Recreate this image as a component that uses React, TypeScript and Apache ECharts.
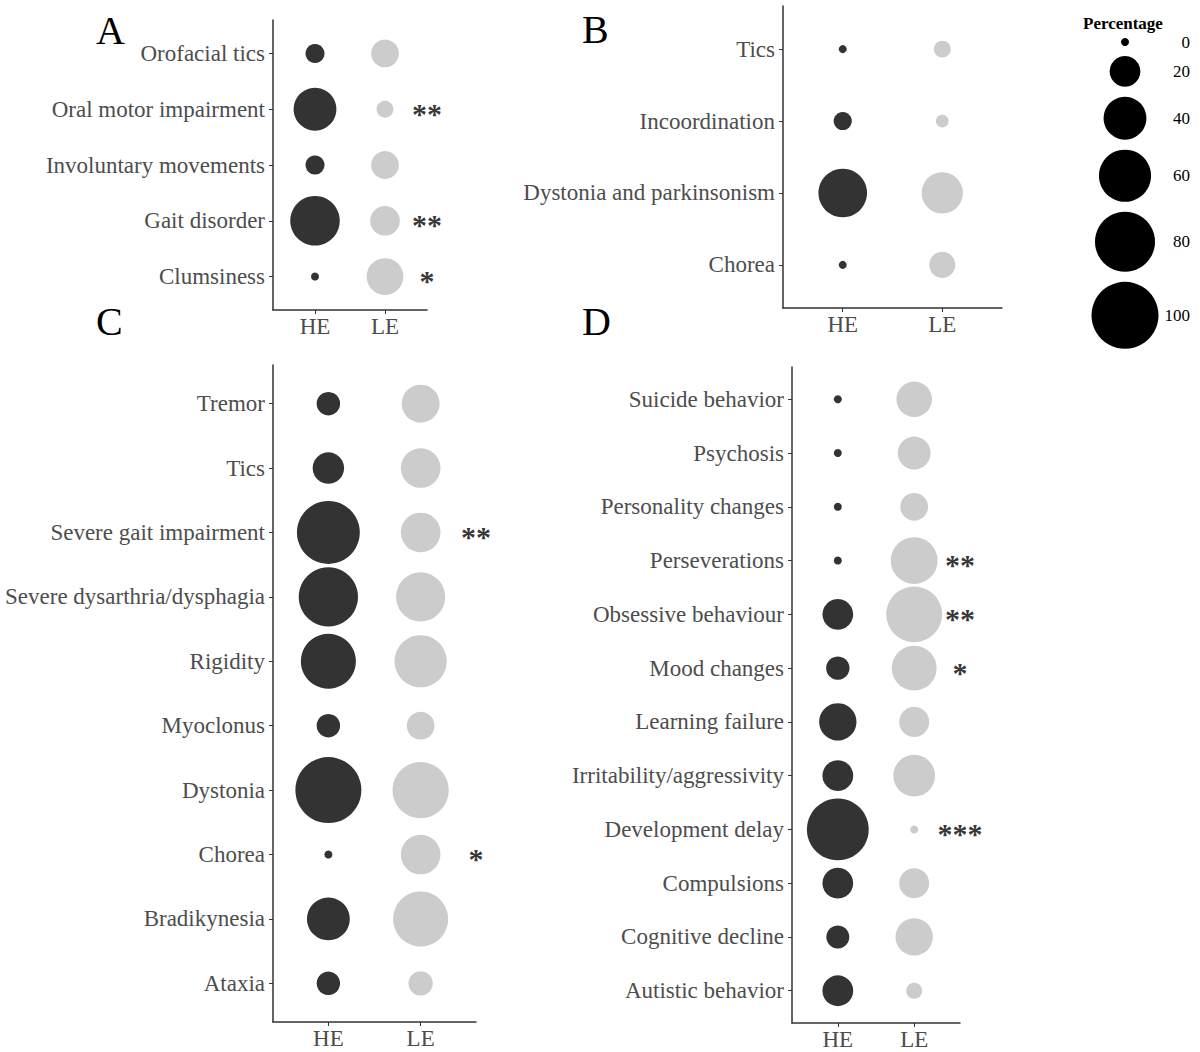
import React, { useEffect, useRef } from "react";
import * as echarts from "echarts";

// ---------- data ----------
const groups = ["HE", "LE"];

const catsA = ["Orofacial tics", "Oral motor impairment", "Involuntary movements", "Gait disorder", "Clumsiness"];
const heA = [6.7, 40, 6.7, 54, 0];
const leA = [16, 5, 16, 18.5, 29];
const starsA = ["", "**", "", "**", "*"];

const catsB = ["Tics", "Incoordination", "Dystonia and parkinsonism", "Chorea"];
const heB = [0, 6, 52, 0];
const leB = [5, 2.2, 37, 14];
const starsB = ["", "", "", ""];

const catsC = ["Tremor", "Tics", "Severe gait impairment", "Severe dysarthria/dysphagia", "Rigidity", "Myoclonus", "Dystonia", "Chorea", "Bradikynesia", "Ataxia"];
const heC = [11, 21, 88, 78, 67, 11, 97, 0, 40, 11];
const leC = [31, 34, 34, 53, 60, 16, 70, 34, 67, 12];
const starsC = ["", "", "**", "", "", "", "", "*", "", ""];

const catsD = ["Suicide behavior", "Psychosis", "Personality changes", "Perseverations", "Obsessive behaviour", "Mood changes", "Learning failure", "Irritability/aggressivity", "Development delay", "Compulsions", "Cognitive decline", "Autistic behavior"];
const heD = [0, 0, 0, 0, 20, 11, 30, 20, 85, 20, 10.5, 20];
const leD = [27, 23, 16, 48, 69, 44, 19, 38, 0, 19, 30, 4.3];
const starsD = ["", "", "", "**", "**", "*", "", "", "***", "", "", ""];

const legendValues = [0, 20, 40, 60, 80, 100];
const legendTitle = "Percentage";

// ---------- styling ----------
const HE_COLOR = "#333333";
const LE_COLOR = "#cccccc";
const AXIS_COLOR = "#333333";
const LABEL_COLOR = "#4d4d4d";
const FONT = "'Liberation Serif', 'Times New Roman', serif";
const LABEL_SIZE = 23;

const sizeOf = (v: number) => Math.sqrt(64 + 44.25 * v);

const panels = [
  { letter: "A", lx: 96, ly: 30, cats: catsA, he: heA, le: leA, stars: starsA, grid: { left: 273, top: 20, width: 154, height: 290 } },
  { letter: "B", lx: 582, ly: 29, cats: catsB, he: heB, le: leB, stars: starsB, grid: { left: 783, top: 6, width: 219, height: 302 } },
  { letter: "C", lx: 96, ly: 321, cats: catsC, he: heC, le: leC, stars: starsC, grid: { left: 273, top: 365, width: 203, height: 657 } },
  { letter: "D", lx: 582, ly: 321, cats: catsD, he: heD, le: leD, stars: starsD, grid: { left: 792, top: 367, width: 168, height: 656 } },
];

function buildOption() {
  const grid: any[] = [];
  const xAxis: any[] = [];
  const yAxis: any[] = [];
  const series: any[] = [];
  const graphic: any[] = [];

  panels.forEach((p, i) => {
    const n = p.cats.length;
    grid.push({ ...p.grid, containLabel: false, outerBoundsMode: "none" });
    xAxis.push({
      type: "value",
      gridIndex: i,
      min: 0.4,
      max: 2.6,
      axisLine: { show: true, onZero: false, lineStyle: { color: AXIS_COLOR, width: 1.5 } },
      axisTick: { show: true, length: 4, customValues: [1, 2], lineStyle: { color: AXIS_COLOR, width: 1 } },
      axisLabel: {
        customValues: [1, 2],
        formatter: (v: number) => groups[Math.round(v) - 1] ?? "",
        color: LABEL_COLOR,
        fontFamily: FONT,
        fontSize: LABEL_SIZE,
        margin: 5,
      },
      splitLine: { show: false },
    });
    const ys = p.cats.map((_, k) => n - k);
    yAxis.push({
      type: "value",
      gridIndex: i,
      min: 0.4,
      max: n + 0.6,
      axisLine: { show: true, onZero: false, lineStyle: { color: AXIS_COLOR, width: 1.5 } },
      axisTick: { show: true, length: 4, customValues: ys, lineStyle: { color: AXIS_COLOR, width: 1 } },
      axisLabel: {
        customValues: ys,
        formatter: (v: number) => p.cats[n - Math.round(v)] ?? "",
        color: LABEL_COLOR,
        fontFamily: FONT,
        fontSize: LABEL_SIZE,
        margin: 8,
      },
      splitLine: { show: false },
    });
    series.push({
      type: "scatter",
      xAxisIndex: i,
      yAxisIndex: i,
      data: p.he.map((v, k) => [1, n - k, v]),
      symbolSize: (d: number[]) => sizeOf(d[2]),
      itemStyle: { color: HE_COLOR, opacity: 1 },
      clip: false,
    });
    series.push({
      type: "scatter",
      xAxisIndex: i,
      yAxisIndex: i,
      data: p.le.map((v, k) => [2, n - k, v]),
      symbolSize: (d: number[]) => sizeOf(d[2]),
      itemStyle: { color: LE_COLOR, opacity: 1 },
      clip: false,
    });
    const starData = p.stars
      .map((s, k) => ({ name: s, value: [2.6, n - k] }))
      .filter((d) => d.name !== "");
    if (starData.length) {
      series.push({
        type: "scatter",
        xAxisIndex: i,
        yAxisIndex: i,
        data: starData,
        symbolSize: 1,
        itemStyle: { color: "rgba(0,0,0,0)" },
        clip: false,
        label: {
          show: true,
          position: "inside",
          formatter: "{b}",
          color: "#000",
          fontFamily: FONT,
          fontWeight: "bold",
          fontSize: 30,
          offset: [0, 4],
        },
      });
    }
    graphic.push({
      type: "text",
      x: p.lx,
      y: p.ly,
      style: { text: p.letter, fill: "#000", font: `40px ${FONT}`, verticalAlign: "middle" },
    });
  });

  // size legend
  const lx = 1125;
  let cy = 42;
  graphic.push({
    type: "text",
    x: 1083,
    y: 23,
    style: { text: legendTitle, fill: "#000", font: `bold 17px ${FONT}`, verticalAlign: "middle" },
  });
  legendValues.forEach((v, k) => {
    const d = sizeOf(v);
    if (k > 0) cy += sizeOf(legendValues[k - 1]) / 2 + 10 + d / 2;
    graphic.push({ type: "circle", shape: { cx: lx, cy, r: d / 2 }, style: { fill: "#000" } });
    graphic.push({
      type: "text",
      x: 1190,
      y: cy,
      style: { text: String(v), fill: "#000", font: `17px ${FONT}`, align: "right", verticalAlign: "middle" },
    });
  });

  return { animation: false, backgroundColor: "#ffffff", grid, xAxis, yAxis, series, graphic };
}

export default function App() {
  const ref = useRef<HTMLDivElement>(null);
  useEffect(() => {
    if (!ref.current) return;
    const chart = echarts.init(ref.current, undefined, { renderer: "svg" });
    chart.setOption(buildOption() as any);
    return () => chart.dispose();
  }, []);
  return (
    <div
      ref={ref}
      style={{ position: "absolute", left: 0, top: 0, width: 1200, height: 1052, background: "#fff" }}
    />
  );
}
